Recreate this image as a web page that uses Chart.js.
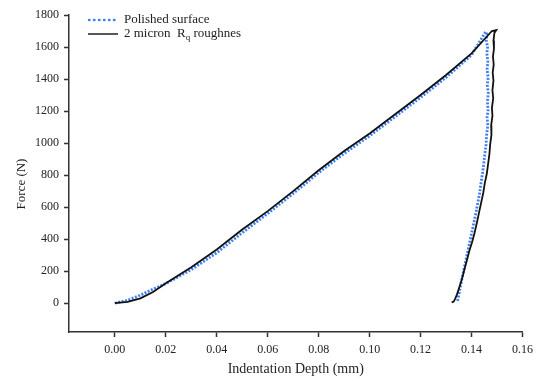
<!DOCTYPE html>
<html>
<head>
<meta charset="utf-8">
<script src="https://cdn.jsdelivr.net/npm/chart.js@4/dist/chart.umd.min.js"></script>
<style>
  html, body { margin: 0; padding: 0; background: #fff; }
  #wrap { width: 539px; height: 381px; }
</style>
</head>
<body>
<div id="wrap"><canvas id="chart" width="539" height="381"></canvas></div>
<script>
// indentation depth (mm) and force (N), load then unload
const polishedDepth = [
  0, 0.005, 0.01, 0.015, 0.02, 0.03, 0.04, 0.05, 0.06, 0.07, 0.08, 0.09, 0.10, 0.11, 0.12, 0.13, 0.14, 0.1455,
  0.1460, 0.1458, 0.1463, 0.1460, 0.1464, 0.1461, 0.1465, 0.1462, 0.1466, 0.1462, 0.1465, 0.1461, 0.1464,
  0.1459, 0.1457, 0.1452, 0.1448, 0.1443, 0.1437, 0.1432, 0.1425, 0.1418, 0.1410, 0.1402, 0.1394, 0.1386,
  0.1378, 0.1370, 0.1362, 0.1355, 0.1350, 0.1346, 0.1343
];
const polishedForce = [
  0, 18, 50, 88, 122, 210, 315, 440, 560, 685, 815, 935, 1045, 1165, 1285, 1410, 1550, 1695,
  1680, 1640, 1600, 1560, 1510, 1460, 1410, 1360, 1310, 1260, 1210, 1160, 1110,
  1050, 990, 930, 870, 810, 750, 690, 630, 570, 510, 450, 390, 330,
  270, 210, 150, 95, 50, 20, 5
];
const roughDepth = [
  0, 0.005, 0.01, 0.015, 0.02, 0.03, 0.04, 0.05, 0.06, 0.07, 0.08, 0.09, 0.10, 0.11, 0.12, 0.13, 0.14, 0.148,
  0.1497, 0.1490, 0.1486, 0.1488, 0.1484, 0.1487, 0.1483, 0.1486, 0.1482, 0.1485, 0.1480, 0.1482, 0.1477,
  0.1478, 0.1473, 0.1470, 0.1465, 0.1460, 0.1452, 0.1446, 0.1438, 0.1430, 0.1422, 0.1412, 0.1402, 0.1392,
  0.1382, 0.1372, 0.1362, 0.1352, 0.1343, 0.1335, 0.1330, 0.1322
];
const roughForce = [
  0, 8, 30, 70, 125, 225, 335, 460, 575, 700, 830, 950, 1060, 1180, 1300, 1425, 1560, 1700,
  1706, 1690, 1640, 1590, 1540, 1490, 1440, 1390, 1330, 1280, 1220, 1170, 1110,
  1050, 990, 930, 870, 810, 750, 690, 630, 570, 510, 440, 380, 330,
  270, 210, 150, 100, 55, 25, 10, 5
];
const depthTicks = [0, 0.02, 0.04, 0.06, 0.08, 0.10, 0.12, 0.14, 0.16];
const forceTicks = [0, 200, 400, 600, 800, 1000, 1200, 1400, 1600, 1800];

const BLUE = '#3f7fef';
const INK = '#111';
const AXIS = '#333';
const TEXT = '#222';
const SERIF = '"Liberation Serif", "Times New Roman", serif';

const toPoints = (xs, ys) => xs.map((x, i) => ({ x: x, y: ys[i] }));

// legend with the subscript q, and the rotated y title
const annotations = {
  id: 'annotations',
  afterDraw(chart) {
    const ctx = chart.ctx;
    ctx.save();
    ctx.lineCap = 'round';
    ctx.strokeStyle = BLUE;
    ctx.lineWidth = 2.4;
    ctx.setLineDash([0.5, 4.5]);
    ctx.beginPath(); ctx.moveTo(89, 20); ctx.lineTo(118, 20); ctx.stroke();
    ctx.setLineDash([]);
    ctx.lineCap = 'butt';
    ctx.strokeStyle = INK;
    ctx.lineWidth = 1.4;
    ctx.beginPath(); ctx.moveTo(88, 34); ctx.lineTo(118, 34); ctx.stroke();

    ctx.fillStyle = TEXT;
    ctx.textBaseline = 'middle';
    ctx.font = '13px ' + SERIF;
    ctx.fillText('Polished surface', 124, 20);
    let x = 124;
    ctx.fillText('2 micron  R', x, 34);
    x += ctx.measureText('2 micron  R').width;
    ctx.font = '9px ' + SERIF;
    ctx.fillText('q', x, 38);
    x += ctx.measureText('q').width;
    ctx.font = '13px ' + SERIF;
    ctx.fillText(' roughnes', x, 34);

    ctx.translate(22, 184);
    ctx.rotate(-Math.PI / 2);
    ctx.textAlign = 'center';
    ctx.font = '13px ' + SERIF;
    ctx.fillStyle = TEXT;
    ctx.fillText('Force (N)', 0, 0);
    ctx.restore();
  }
};

new Chart(document.getElementById('chart'), {
  type: 'scatter',
  plugins: [annotations],
  data: {
    datasets: [
      {
        label: 'Polished surface',
        data: toPoints(polishedDepth, polishedForce),
        showLine: true,
        borderColor: BLUE,
        borderWidth: 2.8,
        borderDash: [2, 1.5],
        pointRadius: 0,
        tension: 0,
        order: 1
      },
      {
        label: '2 micron Rq roughnes',
        data: toPoints(roughDepth, roughForce),
        showLine: true,
        borderColor: INK,
        borderWidth: 1.8,
        pointRadius: 0,
        tension: 0,
        order: 0
      }
    ]
  },
  options: {
    responsive: false,
    animation: false,
    layout: { padding: { left: 0, right: 16, top: 15, bottom: 0 } },
    plugins: { legend: { display: false }, tooltip: { enabled: false } },
    scales: {
      x: {
        type: 'linear',
        min: -0.018,
        max: 0.16,
        afterBuildTicks: (scale) => { scale.ticks = depthTicks.map(v => ({ value: v })); },
        afterFit: (scale) => { scale.height = 49; },
        grid: { display: true, drawOnChartArea: false, drawTicks: true, tickLength: 5, tickColor: AXIS, tickWidth: 1.5 },
        border: { display: true, color: AXIS, width: 1.5 },
        ticks: {
          color: TEXT,
          font: { family: SERIF, size: 12 },
          padding: 6,
          maxRotation: 0,
          callback: (v) => v.toFixed(2)
        },
        title: {
          display: true,
          text: 'Indentation Depth (mm)',
          color: TEXT,
          font: { family: SERIF, size: 14 },
          padding: { top: 0, bottom: 3 }
        }
      },
      y: {
        type: 'linear',
        min: -180,
        max: 1800,
        afterBuildTicks: (scale) => { scale.ticks = forceTicks.map(v => ({ value: v })); },
        afterFit: (scale) => { scale.width = 69; },
        grid: { display: true, drawOnChartArea: false, drawTicks: true, tickLength: 5, tickColor: AXIS, tickWidth: 1.5 },
        border: { display: true, color: AXIS, width: 1.5 },
        ticks: {
          color: TEXT,
          font: { family: SERIF, size: 12 },
          padding: 5,
          callback: (v) => String(v)
        }
      }
    }
  }
});
</script>
</body>
</html>
